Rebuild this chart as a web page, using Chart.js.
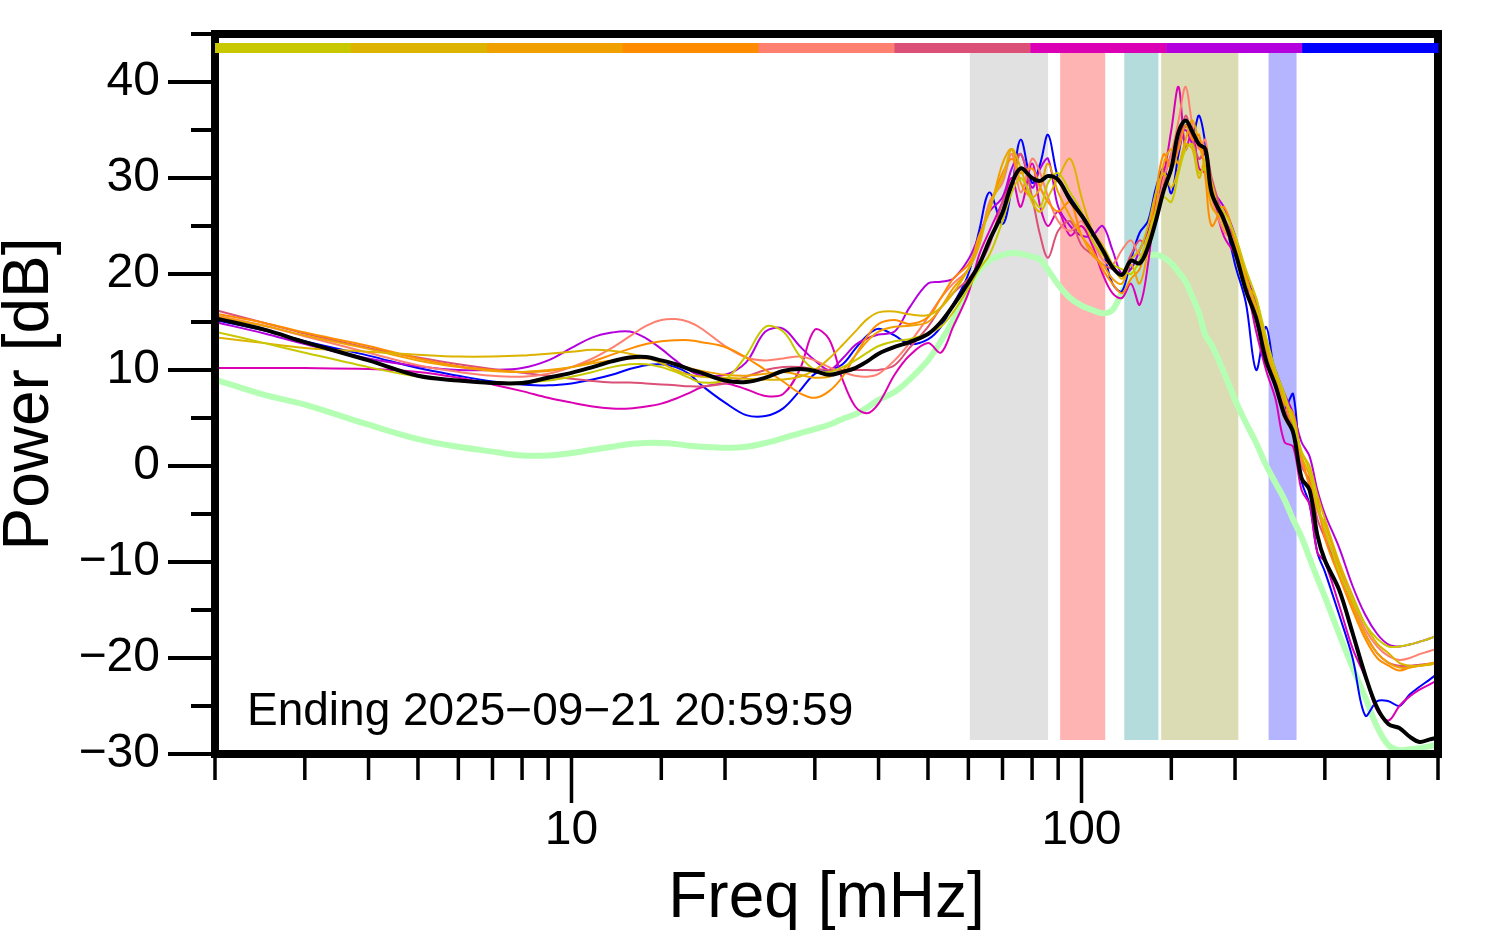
<!DOCTYPE html>
<html lang="en">
<head>
<meta charset="utf-8">
<title>Power spectrum</title>
<style>
  * { margin: 0; padding: 0; box-sizing: border-box; }
  body { background: #fff; width: 1494px; height: 952px; overflow: hidden; }
  #spec { display: block; }
</style>
</head>
<body>
<canvas id="spec" width="1494" height="952"></canvas>
<script src="https://cdn.jsdelivr.net/npm/chart.js@4.4.1/dist/chart.umd.min.js"></script>
<script>
// frequency grid in mHz
const freqs = [2, 2.5, 3, 4, 5, 6, 7, 8, 9, 10,
  11, 12, 13, 14, 15, 16, 17, 18, 20, 22,
  24, 26, 28, 30, 32, 34, 36, 38, 40, 43,
  46, 50, 53, 56, 60, 63, 66, 70, 73, 76,
  80, 83, 86, 90, 95, 100, 105, 110, 115, 120,
  125, 130, 135, 140, 145, 150, 155, 160, 165, 170,
  175, 180, 190, 200, 210, 220, 230, 240, 250, 260,
  270, 280, 290, 300, 320, 340, 360, 380, 400, 420,
  440, 460, 480, 500];

// power in dB, one array per day
const dayOlive = [14.0, 12.8, 11.8, 10.3, 9.3, 8.9, 8.7, 8.7, 8.9, 9.3,
  9.8, 10.3, 10.6, 10.6, 10.3, 9.8, 9.2, 8.7, 9.0, 11.5,
  14.5, 14.0, 11.5, 10.0, 9.8, 10.3, 11.0, 11.8, 12.5, 13.0,
  13.2, 13.8, 14.5, 16.0, 18.5, 20.5, 22.0, 25.5, 28.5, 30.0,
  28.0, 27.0, 29.5, 30.5, 28.5, 26.5, 23.5, 22.0, 21.0, 20.5,
  20.0, 21.5, 24.0, 26.5, 28.0, 27.5, 30.5, 33.0, 33.5, 30.5,
  31.0, 28.0, 26.5, 24.0, 20.5, 17.5, 13.5, 10.0, 7.5, 4.5,
  1.5, -0.5, -4.0, -6.5, -11.0, -14.0, -16.5, -18.0, -18.8, -18.8,
  -18.6, -18.3, -18.0, -17.6];
const dayGold = [13.4, 12.8, 12.3, 11.9, 11.6, 11.4, 11.4, 11.5, 11.7, 11.9,
  12.1, 12.0, 11.7, 11.3, 10.7, 10.0, 9.5, 9.3, 9.2, 9.1,
  9.0, 9.0, 9.3, 10.0, 11.2, 12.6, 14.0, 15.3, 16.0, 16.1,
  15.8, 15.7, 16.5, 18.0, 20.5, 23.0, 27.0, 30.0, 33.0, 31.0,
  27.5, 26.5, 28.0, 30.0, 32.0, 28.0, 24.5, 23.0, 21.0, 19.5,
  21.5, 22.5, 25.0, 28.5, 30.5, 29.0, 31.0, 33.5, 33.0, 30.0,
  32.0, 29.5, 25.0, 23.0, 19.5, 16.5, 12.5, 9.5, 7.0, 5.0,
  1.5, 0.0, -3.0, -5.5, -10.0, -13.5, -16.5, -18.5, -19.5, -20.5,
  -20.8, -20.8, -20.7, -20.5];
const dayOrange = [15.6, 14.6, 13.6, 12.2, 11.0, 10.3, 9.9, 9.8, 10.0, 10.3,
  10.7, 11.0, 11.2, 11.2, 11.0, 10.6, 10.2, 9.9, 9.5, 9.4,
  9.6, 9.8, 9.5, 9.2, 9.3, 10.0, 11.5, 13.0, 14.0, 14.5,
  14.6, 15.0, 16.5, 18.5, 20.5, 24.0, 26.5, 31.5, 33.0, 29.5,
  28.0, 29.0, 31.5, 28.5, 26.0, 24.0, 22.0, 21.0, 19.5, 19.0,
  21.0, 19.0, 22.5, 27.0, 31.5, 33.0, 31.5, 34.0, 36.0, 33.5,
  31.0, 27.0, 25.5, 22.5, 19.0, 17.5, 12.5, 9.0, 6.5, 5.5,
  1.0, -1.0, -4.5, -6.0, -10.5, -14.5, -17.5, -19.5, -20.5, -21.0,
  -21.0, -20.8, -20.6, -20.4];
const dayDarkOrange = [15.9, 14.9, 13.9, 12.5, 11.2, 10.4, 10.0, 9.8, 9.9, 10.3,
  10.9, 11.6, 12.2, 12.7, 13.0, 13.1, 13.1, 12.9, 12.4, 11.3,
  10.0, 8.8, 7.6, 7.1, 7.8, 9.3, 11.5, 13.5, 14.8, 15.2,
  14.8, 15.5, 17.5, 19.5, 21.0, 23.5, 27.0, 30.5, 32.0, 30.5,
  31.0, 29.0, 27.5, 26.5, 27.5, 24.0, 22.5, 20.5, 19.0, 18.0,
  19.5, 20.5, 23.5, 28.5, 32.5, 31.0, 33.0, 35.5, 34.0, 34.5,
  30.0, 25.0, 27.0, 23.5, 20.0, 16.0, 13.0, 9.5, 7.0, 3.5,
  1.0, -2.0, -3.5, -7.5, -11.5, -15.0, -18.0, -20.0, -20.8, -21.3,
  -21.0, -20.8, -20.7, -20.5];
const daySalmon = [15.7, 14.6, 13.5, 11.8, 10.5, 9.8, 9.4, 9.3, 9.6, 10.3,
  11.2, 12.3, 13.5, 14.6, 15.2, 15.3, 15.0, 14.3, 12.5, 11.3,
  11.0, 11.2, 11.4, 11.0, 10.3, 9.8, 9.4, 9.3, 9.6, 11.0,
  12.8, 15.5, 17.5, 19.0, 20.5, 23.0, 27.5, 29.5, 32.5, 28.5,
  32.0, 30.5, 28.0, 25.5, 24.5, 25.5, 23.5, 21.5, 21.0, 22.5,
  23.5, 22.0, 23.0, 26.0, 30.0, 32.5, 36.0, 39.5, 35.5, 33.0,
  34.0, 28.0, 24.5, 23.0, 18.5, 16.5, 11.5, 8.5, 5.0, 3.5,
  0.5, -2.0, -4.5, -7.0, -10.5, -14.0, -17.0, -18.8, -19.8, -20.2,
  -20.0, -19.6, -19.3, -19.0];
const dayRose = [16.25, 14.9, 13.8, 12.3, 11.3, 10.6, 10.1, 9.7, 9.4, 9.1,
  8.85, 8.7, 8.7, 8.6, 8.5, 8.4, 8.3, 8.3, 8.6, 9.3,
  10.0, 10.3, 10.3, 10.1, 10.0, 10.0, 10.0, 10.0, 10.0, 10.5,
  12.3, 14.5, 16.5, 18.0, 19.5, 21.0, 23.0, 27.5, 29.5, 32.5,
  28.0, 24.0, 21.7, 24.5, 25.5, 23.0, 22.0, 21.0, 20.5, 20.0,
  22.0, 23.5, 23.0, 26.0, 29.5, 31.0, 33.5, 36.5, 34.0, 32.0,
  33.0, 30.0, 26.0, 23.5, 19.0, 17.0, 12.0, 9.5, 6.0, 4.0,
  0.0, -1.5, -5.5, -7.5, -11.0, -14.5, -17.5, -19.5, -20.5, -20.8,
  -20.8, -20.7, -20.6, -20.5];
const dayMagenta = [10.2, 10.2, 10.2, 10.1, 9.8, 9.2, 8.5, 7.8, 7.1, 6.6,
  6.2, 6.0, 6.0, 6.2, 6.5, 7.0, 7.6, 8.2, 8.6, 8.0,
  7.3, 7.5, 10.0, 14.2, 13.2, 9.0, 6.2, 5.5, 6.5, 9.5,
  11.5, 12.8, 11.8, 14.5, 18.0, 22.0, 24.5, 27.5, 30.0, 27.0,
  31.5, 27.0, 25.0, 26.5, 24.0, 25.0, 23.0, 20.0, 18.0, 17.5,
  19.0, 16.8, 21.0, 28.0, 30.5, 35.0, 39.5, 33.0, 35.0, 31.0,
  30.5, 28.5, 24.0, 22.0, 19.0, 14.0, 10.0, 7.0, 2.5, 2.0,
  -2.5, -4.0, -9.0, -10.0, -14.5, -19.0, -22.0, -25.5, -26.5, -25.0,
  -24.0, -23.3, -22.8, -22.3];
const dayPurple = [15.0, 13.8, 12.7, 11.2, 10.4, 10.0, 10.0, 10.2, 11.0, 12.3,
  13.4, 13.9, 14.0, 13.3, 12.2, 11.0, 10.0, 9.4, 9.5, 10.8,
  14.0, 14.3, 12.5, 11.0, 10.0, 11.2, 12.6, 13.3, 13.7, 14.0,
  16.5, 19.0, 19.2, 19.5, 21.5, 24.0, 26.5, 28.0, 31.0, 32.5,
  29.0, 31.0, 32.0, 27.0, 25.0, 24.0, 24.0, 25.0, 22.5, 20.0,
  20.5, 22.5, 24.5, 27.5, 30.0, 32.5, 34.5, 35.0, 33.5, 32.0,
  32.5, 29.0, 27.0, 24.0, 20.0, 17.0, 13.0, 10.0, 7.5, 5.5,
  2.5, 1.0, -2.5, -5.0, -8.5, -12.5, -15.5, -17.5, -18.6, -18.8,
  -18.6, -18.3, -18.0, -17.6];
const dayBlue = [15.2, 14.1, 13.0, 11.5, 10.2, 9.4, 8.8, 8.5, 8.4, 8.6,
  9.0, 9.5, 10.1, 10.5, 10.6, 10.3, 9.6, 8.4, 6.6, 5.3,
  5.2, 6.0, 7.8, 9.6, 10.0, 10.6, 12.2, 13.6, 14.3, 13.6,
  12.7, 13.2, 14.5, 16.8, 20.0, 24.5, 28.5, 25.2, 29.0, 34.0,
  29.5, 31.5, 34.5, 30.0, 28.0, 26.3, 24.5, 22.5, 19.0, 18.2,
  21.5, 24.3, 25.5, 29.0, 31.0, 28.4, 32.5, 35.5, 34.5, 36.5,
  33.5, 29.0, 26.0, 21.0, 17.0, 10.0, 14.5, 9.0, 6.0, 7.5,
  -1.5, -4.0, -9.0, -11.0, -15.5, -20.0, -26.0, -24.5, -24.5, -25.0,
  -23.8, -23.0, -22.3, -21.6];
const meanPower = [15.4, 14.2, 12.9, 11.0, 9.4, 8.9, 8.65, 8.65, 9.2, 9.7,
  10.3, 10.9, 11.3, 11.35, 11.0, 10.6, 10.1, 9.7, 8.9, 8.75,
  9.2, 9.9, 10.1, 9.9, 9.5, 9.8, 10.2, 10.9, 11.7, 12.4,
  12.9, 13.75, 15.0, 16.7, 19.1, 21.0, 23.5, 26.4, 29.4, 31.0,
  30.0, 29.7, 30.2, 29.8, 27.7, 26.1, 24.3, 22.5, 20.7, 19.9,
  21.4, 21.1, 22.8, 25.6, 28.75, 31.0, 34.8, 36.0, 34.8, 33.5,
  33.0, 28.4, 25.7, 22.3, 18.3, 15.4, 11.0, 8.4, 5.3, 3.5,
  -1.25, -2.5, -7.2, -9.8, -12.9, -17.4, -21.8, -25.2, -26.9, -27.3,
  -28.2, -28.75, -28.5, -28.3];
const quietPower = [9.0, 7.4, 6.4, 4.3, 2.8, 2.0, 1.5, 1.1, 1.1, 1.35,
  1.7, 2.0, 2.3, 2.4, 2.4, 2.3, 2.1, 2.0, 1.9, 2.0,
  2.4, 2.9, 3.4, 3.85, 4.3, 4.9, 5.4, 6.1, 6.9, 7.7,
  9.0, 11.0, 13.0, 15.2, 18.5, 20.4, 21.4, 22.0, 22.2, 22.1,
  21.8, 21.5, 20.4, 18.9, 17.5, 16.7, 16.25, 15.9, 16.25, 18.1,
  19.9, 21.25, 21.9, 22.0, 21.7, 21.1, 20.2, 19.2, 17.6, 15.9,
  13.6, 12.6, 9.8, 6.9, 4.5, 2.4, 0.1, -1.75, -3.5, -5.6,
  -7.4, -9.6, -11.7, -13.6, -17.5, -21.0, -24.1, -27.2, -29.1, -29.6,
  -29.5, -29.4, -29.2, -29.0];

const daySeries = [dayOlive, dayGold, dayOrange, dayDarkOrange, daySalmon, dayRose, dayMagenta, dayPurple, dayBlue];
const dayColors = ["#c8c800", "#dcb400", "#f0a000", "#ff8c00", "#ff8070", "#dc5078", "#dc00b4", "#b400dc", "#0000ff"];

// shaded frequency bands (mHz)
const bandLo = [60.4, 90.8, 121.3, 143.3, 232.7];
const bandHi = [86.0, 111.3, 141.5, 203, 264];
const bandColors = ["#e1e1e1", "#ffb4b4", "#b4dcdd", "#dcdcb4", "#b4b4ff"];

const yMajor = 10;
const xLabelled = [10, 100];
const endingText = "Ending 2025\u221209\u221221 20:59:59";

Chart.defaults.font.family = '"Liberation Sans", Arial, sans-serif';
Chart.defaults.color = "#000";

const toPoints = (arr) => arr.map((v, i) => ({ x: freqs[i], y: v }));

const datasets = [];
datasets.push({
  data: toPoints(meanPower), borderColor: "#000", borderWidth: 4, order: 0
});
daySeries.forEach((s, i) => {
  datasets.push({ data: toPoints(s), borderColor: dayColors[i], borderWidth: 2, order: 1 + i });
});
datasets.push({
  data: toPoints(quietPower), borderColor: "#b4ffb4", borderWidth: 6, order: 20
});

const minus = (v) => (v < 0 ? "\u2212" + Math.abs(v) : String(v));

const bandPlugin = {
  id: "bands",
  beforeDatasetsDraw(chart) {
    const { ctx, chartArea, scales } = chart;
    const top = chartArea.top + 19;
    const bottom = chartArea.bottom - 14;
    ctx.save();
    bandLo.forEach((lo, i) => {
      const x0 = scales.x.getPixelForValue(lo);
      const x1 = scales.x.getPixelForValue(bandHi[i]);
      ctx.fillStyle = bandColors[i];
      ctx.fillRect(x0, top, x1 - x0, bottom - top);
    });
    ctx.restore();
  }
};

const framePlugin = {
  id: "frame",
  afterDraw(chart) {
    const { ctx, chartArea, scales } = chart;
    const { left, right, top, bottom } = chartArea;
    ctx.save();
    ctx.strokeStyle = "#000";
    // tick marks
    ctx.lineWidth = 4;
    scales.y.ticks.forEach((t) => {
      const py = scales.y.getPixelForValue(t.value);
      const len = t.value % yMajor === 0 ? 47 : 24;
      ctx.beginPath();
      ctx.moveTo(left - len, py);
      ctx.lineTo(left, py);
      ctx.stroke();
    });
    ctx.lineWidth = 3.5;
    scales.x.ticks.forEach((t) => {
      const px = scales.x.getPixelForValue(t.value);
      const len = xLabelled.includes(t.value) ? 49 : 26;
      ctx.beginPath();
      ctx.moveTo(px, bottom);
      ctx.lineTo(px, bottom + len);
      ctx.stroke();
    });
    // box
    ctx.lineWidth = 8;
    ctx.strokeRect(left, top, right - left, bottom - top);
    // day colour strip
    const w = (right - left) / dayColors.length;
    dayColors.forEach((c, i) => {
      ctx.fillStyle = c;
      ctx.fillRect(left + i * w, top + 9, w + 0.5, 10);
    });
    ctx.fillStyle = "#000";
    ctx.font = '46px "Liberation Sans", Arial, sans-serif';
    ctx.textBaseline = "alphabetic";
    ctx.fillText(endingText, left + 32, bottom - 29);
    ctx.restore();
  }
};

new Chart(document.getElementById("spec"), {
  type: "line",
  data: { datasets },
  plugins: [bandPlugin, framePlugin],
  options: {
    responsive: false,
    animation: false,
    layout: { padding: { top: 34, right: 56, left: 0, bottom: 0 } },
    elements: {
      point: { radius: 0 },
      line: { tension: 0.35, fill: false }
    },
    plugins: { legend: { display: false }, tooltip: { enabled: false } },
    scales: {
      x: {
        type: "logarithmic",
        min: 2,
        max: 500,
        afterFit: (s) => { s.height = 198; s.paddingLeft = 0; s.paddingRight = 0; },
        grid: { display: false },
        border: { display: false },
        ticks: {
          autoSkip: false,
          maxRotation: 0,
          padding: 40,
          font: { size: 48 },
          callback: (v) => (xLabelled.includes(v) ? String(v) : "")
        },
        title: {
          display: true,
          text: "Freq [mHz]",
          font: { size: 64, lineHeight: 1 },
          padding: { top: 0, bottom: 21 }
        }
      },
      y: {
        min: -30,
        max: 45,
        afterFit: (s) => { s.width = 215; s.paddingTop = 0; s.paddingBottom = 0; },
        grid: { display: false },
        border: { display: false },
        ticks: {
          stepSize: 5,
          autoSkip: false,
          padding: 47,
          font: { size: 48 },
          callback: (v) => (v % yMajor === 0 ? minus(v) : "")
        },
        title: {
          display: true,
          text: "Power [dB]",
          font: { size: 64, lineHeight: 1 },
          padding: { top: -2, bottom: 0 }
        }
      }
    }
  }
});
</script>
</body>
</html>
